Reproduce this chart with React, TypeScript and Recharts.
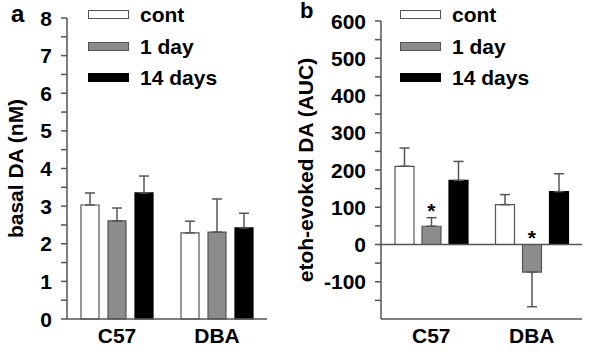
import React from 'react';
import {
  ComposedChart,
  Bar,
  XAxis,
  YAxis,
  ErrorBar,
  ReferenceLine,
  Scatter,
  Legend,
} from 'recharts';

const strains = ['C57', 'DBA'];
const groupNames = ['cont', '1 day', '14 days'];

// panel a: basal DA (nM)
const basalCont = [3.03, 2.29];
const basalDay1 = [2.61, 2.31];
const basalDay14 = [3.35, 2.42];
const basalContErr = [0.32, 0.31];
const basalDay1Err = [0.34, 0.88];
const basalDay14Err = [0.45, 0.39];
const basalTicks = [0, 0.5, 1, 1.5, 2, 2.5, 3, 3.5, 4, 4.5, 5, 5.5, 6, 6.5, 7, 7.5, 8];

// panel b: etoh-evoked DA (AUC)
const evokedCont = [210, 107];
const evokedDay1 = [49, -74];
const evokedDay14 = [172, 142];
const evokedContErr = [49, 27];
const evokedDay1Err = [23, 93];
const evokedDay14Err = [51, 48];
const evokedStars = [103, 30];
const evokedTicks = [-150, -100, -50, 0, 50, 100, 150, 200, 250, 300, 350, 400, 450, 500, 550, 600];

const FONT = '"Liberation Sans", Arial, Helvetica, sans-serif';
const AXIS = '#555';
const fills = ['#ffffff', '#8c8c8c', '#000000'];
const strokes = ['#555', '#555', '#000'];
const textStyle = { fontFamily: FONT, fontWeight: 700, fontSize: 21 };

// one-sided error: up for positive bars, down for negative ones
const oneSided = (v: number, e: number) => (v >= 0 ? [0, e] : [e, 0]);

const buildRows = (vals: number[][], errs: number[][], stars?: number[]) =>
  strains.map((s, i) => ({
    strain: s,
    g0: vals[0][i],
    g1: vals[1][i],
    g2: vals[2][i],
    e0: oneSided(vals[0][i], errs[0][i]),
    e1: oneSided(vals[1][i], errs[1][i]),
    e2: oneSided(vals[2][i], errs[2][i]),
    star: stars ? stars[i] : null,
  }));

const basalRows = buildRows(
  [basalCont, basalDay1, basalDay14],
  [basalContErr, basalDay1Err, basalDay14Err]
);
const evokedRows = buildRows(
  [evokedCont, evokedDay1, evokedDay14],
  [evokedContErr, evokedDay1Err, evokedDay14Err],
  evokedStars
);

const YTick = (props: any) => {
  const { x, y, payload, labelEvery } = props;
  const v = payload.value;
  const labeled = Math.abs(v % labelEvery) < 1e-9;
  return (
    <g>
      <line x1={x - 6} x2={x} y1={y} y2={y} stroke={AXIS} strokeWidth={1.5} />
      {labeled && (
        <text x={x - 15} y={y} textAnchor="end" dominantBaseline="central" fill="#000" style={textStyle}>
          {v}
        </text>
      )}
    </g>
  );
};

const XTick = (props: any) => (
  <text x={props.x} y={props.y + 24} textAnchor="middle" fill="#000" style={textStyle}>
    {props.payload.value}
  </text>
);

const axisTitle = (text: string) => (p: any) => {
  const vb = p.viewBox || {};
  const cy = (vb.y || 0) + (vb.height || 0) / 2;
  return (
    <text
      x={15}
      y={cy}
      transform={`rotate(-90, 15, ${cy})`}
      textAnchor="middle"
      dominantBaseline="central"
      fill="#000"
      style={textStyle}
    >
      {text}
    </text>
  );
};

const LegendBox = () => (
  <div style={{ ...textStyle, textAlign: 'left' }}>
    {groupNames.map((name, i) => (
      <div key={name} style={{ height: 31.5, display: 'flex', alignItems: 'center' }}>
        <span
          style={{
            display: 'inline-block',
            width: 39,
            height: 7,
            background: fills[i],
            border: `1px solid ${strokes[i]}`,
            marginRight: 11,
          }}
        />
        <span style={{ lineHeight: '21px', whiteSpace: 'nowrap' }}>{name}</span>
      </div>
    ))}
  </div>
);

const Star = (props: any) => {
  if (props.payload.star == null) return <g />;
  return (
    <text x={props.cx} y={props.cy + 12} textAnchor="middle" fill="#000" style={textStyle}>
      *
    </text>
  );
};

const bars = () =>
  [0, 1, 2].map((i) => (
    <Bar
      key={i}
      dataKey={`g${i}`}
      name={groupNames[i]}
      fill={fills[i]}
      stroke={strokes[i]}
      strokeWidth={1.2}
      isAnimationActive={false}
    >
      <ErrorBar dataKey={`e${i}`} width={5} stroke={AXIS} strokeWidth={1.5} direction="y" />
    </Bar>
  ));

// legend placed by wrapperStyle; center/middle keeps it from shrinking the plot
const legend = (left: number) => (
  <Legend
    verticalAlign="middle"
    align="center"
    layout="vertical"
    wrapperStyle={{ top: -1, left, width: 'auto', height: 'auto' }}
    content={<LegendBox />}
  />
);

export default function App() {
  return (
    <div style={{ position: 'absolute', left: 0, top: 0, width: 590, height: 358, background: '#fff' }}>
      <div style={{ position: 'absolute', left: 11, top: 0, ...textStyle, fontSize: 24, lineHeight: '28px' }}>a</div>
      <div style={{ position: 'absolute', left: 300, top: 0, ...textStyle, fontSize: 22, lineHeight: '22px' }}>b</div>

      <div style={{ position: 'absolute', left: 0, top: 0 }}>
        <ComposedChart
          width={290}
          height={358}
          data={basalRows}
          margin={{ top: 18, right: 23, bottom: 0, left: 0 }}
          barSize={18}
          barGap={9}
        >
          <XAxis
            dataKey="strain"
            height={39}
            tickSize={0}
            tickMargin={0}
            tickLine={false}
            axisLine={{ stroke: AXIS, strokeWidth: 1.5 }}
            tick={<XTick />}
          />
          <YAxis
            width={67}
            domain={[0, 8]}
            ticks={basalTicks}
            interval={0}
            tickSize={0}
            tickMargin={0}
            tickLine={false}
            axisLine={{ stroke: AXIS, strokeWidth: 1.5 }}
            tick={<YTick labelEvery={1} />}
            label={{ content: axisTitle('basal DA (nM)') }}
          />
          {bars()}
          {legend(88)}
        </ComposedChart>
      </div>

      <div style={{ position: 'absolute', left: 290, top: 0 }}>
        <ComposedChart
          width={300}
          height={358}
          data={evokedRows}
          margin={{ top: 21, right: 8, bottom: 0, left: 0 }}
          barSize={19}
          barGap={8}
        >
          <XAxis
            dataKey="strain"
            height={39}
            tickSize={0}
            tickMargin={0}
            tickLine={false}
            axisLine={{ stroke: AXIS, strokeWidth: 1.5 }}
            tick={<XTick />}
          />
          <YAxis
            width={91}
            domain={[-200, 600]}
            ticks={evokedTicks}
            interval={0}
            tickSize={0}
            tickMargin={0}
            tickLine={false}
            axisLine={{ stroke: AXIS, strokeWidth: 1.5 }}
            tick={<YTick labelEvery={100} />}
            label={{ content: axisTitle('etoh-evoked DA (AUC)') }}
          />
          <ReferenceLine y={0} stroke={AXIS} strokeWidth={1.5} />
          {bars()}
          <Scatter dataKey="star" shape={<Star />} isAnimationActive={false} legendType="none" />
          {legend(110)}
        </ComposedChart>
      </div>
    </div>
  );
}
